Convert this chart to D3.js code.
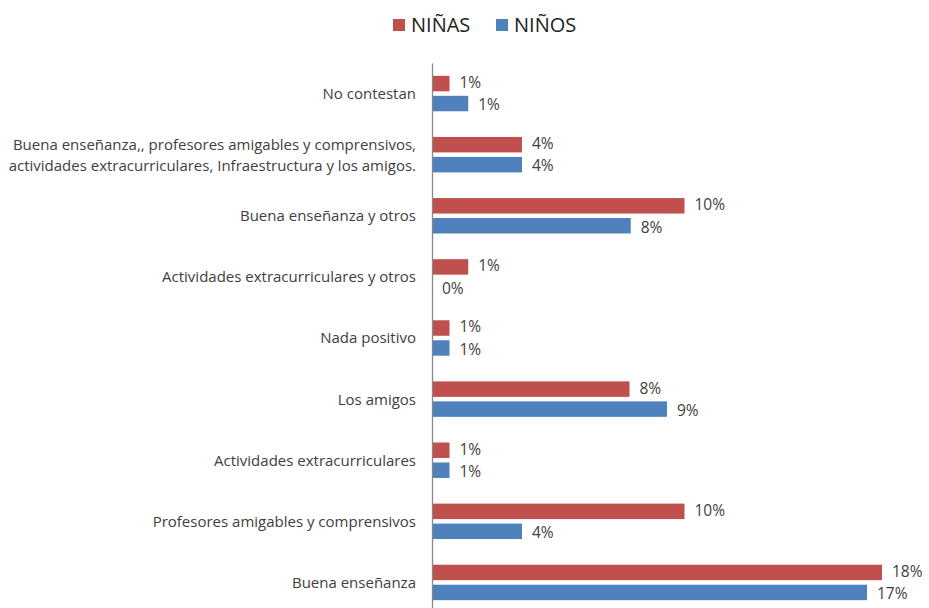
<!DOCTYPE html>
<html>
<head>
<meta charset="utf-8">
<script src="https://cdn.jsdelivr.net/npm/d3@7"></script>
<style>
  html, body { margin: 0; padding: 0; background: #fff; }
  svg { display: block; }
</style>
</head>
<body>
<svg id="chart" width="929" height="608"></svg>
<script>
// ---- data ----
const categories = [
  "No contestan",
  "Buena enseñanza,, profesores amigables y comprensivos,|actividades extracurriculares, Infraestructura y los amigos.",
  "Buena enseñanza y otros",
  "Actividades extracurriculares y otros",
  "Nada positivo",
  "Los amigos",
  "Actividades extracurriculares",
  "Profesores amigables y comprensivos",
  "Buena enseñanza"
];
const series = ["NIÑAS", "NIÑOS"];
const ninas = [0.7, 3.6, 10.1, 1.45, 0.7, 7.9, 0.7, 10.1, 18.0];
const ninos = [1.45, 3.6, 7.95, 0, 0.7, 9.4, 0.7, 3.6, 17.4];
const colors = ["#C0504D", "#4F81BD"];

// ---- layout ----
const svg = d3.select("#chart");
const x = d3.scaleLinear().domain([0, 20]).range([432, 932]);
const y = d3.scaleBand().domain(categories).range([63, 613]).paddingInner(0.42).paddingOuter(0.21);
const ySub = d3.scaleBand().domain(series).range([0, y.bandwidth()]).paddingInner(0.225);

const font = "Open Sans, Lato, sans-serif";
const textColor = "#404040";

// bars
const rows = categories.map((c, i) => ({ cat: c, vals: [ninas[i], ninos[i]] }));
const g = svg.append("g");
rows.forEach(r => {
  r.vals.forEach((v, j) => {
    const yy = y(r.cat) + ySub(series[j]);
    g.append("rect")
      .attr("x", x(0))
      .attr("y", yy)
      .attr("width", x(v) - x(0))
      .attr("height", ySub.bandwidth())
      .attr("fill", colors[j]);
    g.append("text")
      .attr("x", x(v) + 10)
      .attr("y", yy + ySub.bandwidth() / 2 + (j === 0 ? -1.2 : 1.2))
      .attr("dy", "0.36em")
      .attr("font-family", font)
      .attr("font-size", 15.5)
      .attr("fill", textColor)
      .text(Math.round(v) + "%");
  });
});

// axis (category) line
const axis = d3.axisLeft(y).tickSize(0).tickPadding(14).tickFormat(() => "");
const ag = svg.append("g").attr("transform", `translate(${x(0)},0)`).call(axis);
ag.select(".domain").attr("stroke", "#888").attr("stroke-width", 1.3);

// category labels
categories.forEach(c => {
  const lines = c.split("|");
  const cy = y(c) + y.bandwidth() / 2;
  const lh = 21;
  lines.forEach((ln, k) => {
    svg.append("text")
      .attr("x", 416)
      .attr("y", cy + (k - (lines.length - 1) / 2) * lh)
      .attr("dy", "0.36em")
      .attr("text-anchor", "end")
      .attr("font-family", font)
      .attr("font-size", 15)
      .attr("fill", textColor)
      .text(ln);
  });
});

// legend
const legendX = [393, 496];
series.forEach((s, j) => {
  svg.append("rect")
    .attr("x", legendX[j]).attr("y", 19)
    .attr("width", 12).attr("height", 12)
    .attr("fill", colors[j]);
  svg.append("text")
    .attr("x", legendX[j] + 18).attr("y", 25)
    .attr("dy", "0.36em")
    .attr("font-family", font)
    .attr("font-size", 20)
    .attr("fill", "#222")
    .text(s);
});
</script>
</body>
</html>
